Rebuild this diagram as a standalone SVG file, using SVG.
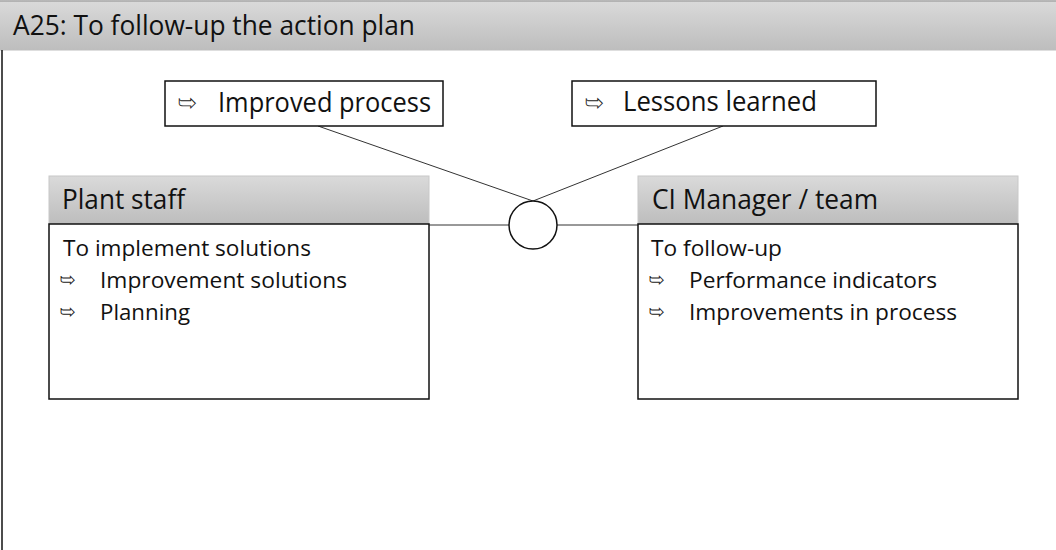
<svg xmlns="http://www.w3.org/2000/svg" width="1056" height="550" viewBox="0 0 1056 550">
<defs>
<linearGradient id="gbar" x1="0" y1="0" x2="0" y2="1">
<stop offset="0" stop-color="#dadada"/>
<stop offset="1" stop-color="#bdbdbd"/>
</linearGradient>
<style>
.t{font-family:"Open Sans","Noto Sans","Liberation Sans",sans-serif;fill:#111}
.big{font-size:27px}
.body{font-size:21px}
.blt{font-family:"DejaVu Sans",sans-serif;fill:#fff;stroke:#222;stroke-width:0.9}
.box{fill:#fff;stroke:#111;stroke-width:1.5}
.hdr{fill:url(#gbar);stroke:#c8c8c8;stroke-width:1}
.con{stroke:#333;stroke-width:1;fill:none}
</style>
</defs>
<rect width="1056" height="550" fill="#fff"/>
<g id="title">
<rect x="0" y="0.5" width="1056" height="50" fill="url(#gbar)"/>
<line x1="0" y1="1" x2="1056" y2="1" stroke="#a6a6a6" stroke-width="1.5"/>
<text class="t big" x="13" y="35" textLength="402" lengthAdjust="spacingAndGlyphs">A25: To follow-up the action plan</text>
<line x1="2" y1="50" x2="2" y2="550" stroke="#111" stroke-width="1.5"/>
</g>
<g id="connectors">
<line class="con" x1="318" y1="126" x2="533" y2="201"/>
<line class="con" x1="723" y1="126" x2="533" y2="201"/>
<line class="con" x1="429" y1="225" x2="509" y2="225"/>
<line class="con" x1="557" y1="225" x2="638" y2="225"/>
</g>
<g id="junction">
<circle cx="533" cy="225" r="24" fill="#fff" stroke="#111" stroke-width="1.5"/>
</g>
<g id="improved-process">
<rect class="box" x="165" y="81" width="278" height="45"/>
<text class="blt" x="178" y="110" font-size="22">➥</text>
<text class="t big" x="218" y="112" textLength="213" lengthAdjust="spacingAndGlyphs">Improved process</text>
</g>
<g id="lessons-learned">
<rect class="box" x="572" y="81" width="304" height="45"/>
<text class="blt" x="585" y="110" font-size="22">➥</text>
<text class="t big" x="623" y="111" textLength="194" lengthAdjust="spacingAndGlyphs">Lessons learned</text>
</g>
<g id="plant-staff">
<rect class="hdr" x="49" y="176" width="380" height="48"/>
<text class="t big" x="62" y="209" textLength="123" lengthAdjust="spacingAndGlyphs">Plant staff</text>
<rect class="box" x="49" y="224" width="380" height="175"/>
<text class="t body" x="63" y="256" textLength="248" lengthAdjust="spacingAndGlyphs">To implement solutions</text>
<text class="blt" x="60" y="286" font-size="18">➥</text>
<text class="t body" x="100" y="288" textLength="247" lengthAdjust="spacingAndGlyphs">Improvement solutions</text>
<text class="blt" x="60" y="318" font-size="18">➥</text>
<text class="t body" x="100" y="320" textLength="90" lengthAdjust="spacingAndGlyphs">Planning</text>
</g>
<g id="ci-manager">
<rect class="hdr" x="638" y="176" width="380" height="48"/>
<text class="t big" x="652" y="209" textLength="226" lengthAdjust="spacingAndGlyphs">CI Manager / team</text>
<rect class="box" x="638" y="224" width="380" height="175"/>
<text class="t body" x="651" y="256" textLength="131" lengthAdjust="spacingAndGlyphs">To follow-up</text>
<text class="blt" x="649" y="286" font-size="18">➥</text>
<text class="t body" x="689" y="288" textLength="248" lengthAdjust="spacingAndGlyphs">Performance indicators</text>
<text class="blt" x="649" y="318" font-size="18">➥</text>
<text class="t body" x="689" y="320" textLength="268" lengthAdjust="spacingAndGlyphs">Improvements in process</text>
</g>
</svg>
